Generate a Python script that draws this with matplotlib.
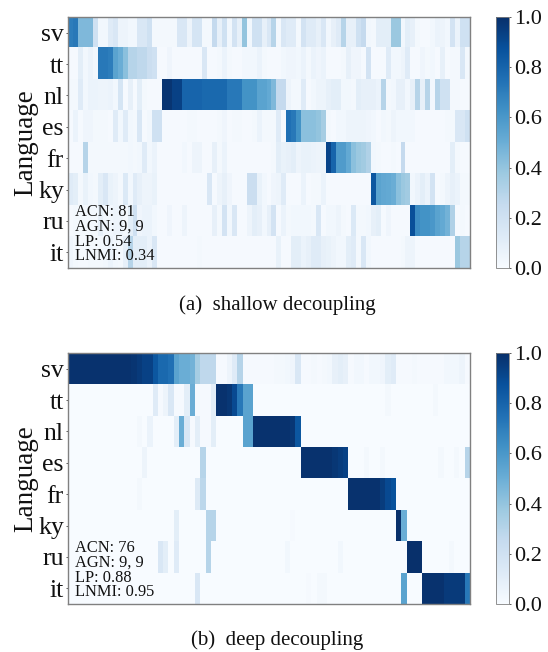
import numpy as np
import matplotlib
matplotlib.use("Agg")
import matplotlib.pyplot as plt

plt.rcParams['font.family'] = ['Liberation Serif', 'DejaVu Serif']

languages = ['sv', 'tt', 'nl', 'es', 'fr', 'ky', 'ru', 'it']
stats_a = ['ACN: 81', 'AGN: 9, 9', 'LP: 0.54', 'LNMI: 0.34']
stats_b = ['ACN: 76', 'AGN: 9, 9', 'LP: 0.88', 'LNMI: 0.95']
caption_a = '(a)  shallow decoupling'
caption_b = '(b)  deep decoupling'
cbar_ticks = [0.0, 0.2, 0.4, 0.6, 0.8, 1.0]

a_sv = [.7,.72,.45,.45,.45,.2,.03,.03,.12,.15,
        .05,.05,.03,.03,.15,.15,.2,.02,.02,.02,
        .02,.02,.15,.15,.05,.17,.17,.02,.02,.25,
        .08,.2,.03,.18,.08,.4,.03,.2,.2,.08,
        .15,.3,.02,.15,.12,.12,.02,.18,.12,.12,
        .08,.15,.03,.08,.12,.3,.08,.08,.2,.25,
        .03,.02,.1,.1,.1,.38,.38,.03,.1,.08,
        .02,.01,.01,.03,.06,.05,.03,.18,.06,.2,.2]
a_tt = [.01,.01,.1,.03,.06,.03,.72,.72,.7,.55,
        .5,.42,.3,.3,.27,.27,.22,.2,.01,.01,
        .04,.01,.01,.01,.01,.01,.01,.15,.01,.01,
        .02,.06,.02,.01,.01,.03,.03,.03,.06,.02,
        .01,.01,.01,.03,.04,.04,.03,.06,.02,.06,
        .04,.06,.01,.01,.01,.02,.08,.04,.04,.01,
        .18,.01,.01,.01,.12,.03,.03,.05,.12,.01,
        .01,.04,.02,.03,.01,.08,.01,.02,.02,.15,.02]
a_nl = [.02,.02,.12,.03,.06,.06,.05,.05,.06,.03,
        .17,.01,.08,.01,.1,.02,.01,.01,.01,.98,
        .98,.93,.93,.8,.8,.8,.8,.78,.78,.78,
        .78,.78,.72,.72,.72,.62,.62,.62,.55,.55,
        .52,.45,.25,.25,.05,.02,.02,.12,.01,.03,
        .05,.05,.08,.1,.1,.03,.03,.02,.1,.08,
        .08,.08,.06,.3,.02,.03,.08,.08,.03,.08,
        .3,.08,.3,.03,.3,.2,.2,.02,.02,.01,.01]
a_es = [.01,.06,.01,.04,.04,.02,.02,.02,.01,.12,
        .03,.12,.03,.02,.15,.01,.03,.2,.2,.01,
        .01,.01,.01,.01,.02,.02,.01,.01,.01,.01,
        .02,.04,.01,.02,.02,.01,.01,.02,.06,.02,
        .02,.02,.12,.01,.75,.72,.62,.42,.42,.42,
        .4,.35,.02,.01,.03,.03,.05,.05,.05,.05,
        .04,.03,.01,.03,.02,.05,.03,.03,.03,.03,
        .01,.01,.01,.01,.01,.01,.02,.02,.15,.15,.2]
a_fr = [.01,.01,.01,.3,.02,.02,.02,.02,.02,.02,
        .02,.02,.03,.02,.03,.12,.03,.06,.01,.01,
        .01,.01,.01,.03,.01,.05,.05,.01,.01,.08,
        .02,.06,.01,.01,.01,.01,.01,.01,.01,.01,
        .01,.02,.1,.07,.08,.1,.05,.07,.07,.06,
        .05,.05,.92,.8,.58,.58,.52,.42,.38,.36,
        .32,.03,.02,.01,.01,.02,.01,.25,.01,.01,
        .01,.01,.01,.01,.01,.01,.01,.1,.02,.01,.01]
a_ky = [.12,.1,.02,.07,.03,.02,.1,.15,.07,.05,
        .02,.14,.03,.12,.08,.05,.05,.07,.01,.01,
        .01,.01,.01,.01,.01,.01,.01,.01,.15,.01,
        .05,.08,.04,.01,.01,.01,.22,.22,.07,.03,
        .01,.04,.05,.12,.01,.01,.01,.06,.01,.02,
        .02,.06,.01,.01,.01,.01,.01,.01,.01,.01,
        .01,.85,.55,.53,.52,.5,.42,.38,.36,.03,
        .06,.1,.06,.18,.01,.02,.05,.08,.06,.02,.02]
a_ru = [.01,.02,.02,.02,.02,.02,.08,.03,.03,.05,
        .05,.02,.1,.2,.04,.06,.06,.03,.01,.01,
        .04,.01,.01,.05,.01,.01,.01,.01,.01,.08,
        .02,.18,.03,.15,.01,.01,.05,.1,.08,.03,
        .08,.18,.01,.06,.02,.03,.03,.03,.03,.02,
        .15,.01,.03,.03,.05,.02,.01,.14,.02,.02,
        .03,.08,.1,.01,.04,.01,.01,.01,.01,.88,
        .65,.62,.62,.6,.55,.52,.48,.32,.01,.02,.01]
a_it = [.04,.02,.01,.01,.02,.02,.02,.03,.06,.03,
        .02,.08,.3,.1,.1,.1,.06,.15,.01,.01,
        .01,.01,.01,.01,.01,.01,.02,.01,.01,.01,
        .01,.01,.01,.01,.01,.01,.01,.01,.01,.01,
        .01,.01,.07,.01,.01,.1,.1,.06,.08,.12,
        .12,.08,.07,.05,.03,.03,.1,.12,.02,.15,
        .03,.01,.01,.01,.01,.01,.01,.02,.05,.05,
        .01,.01,.01,.01,.01,.01,.01,.01,.38,.3,.3]

b_sv = [.99,.99,.99,.99,.99,.99,.99,.99,.99,.99,
        .99,.99,.98,.96,.93,.93,.85,.78,.78,.75,
        .55,.5,.5,.48,.35,.27,.27,.27,.01,.01,
        .05,.12,.3,.01,.01,.01,.01,.01,.01,.02,
        .02,.03,.04,.15,.01,.01,.02,.01,.02,.03,
        .08,.1,.08,.01,.03,.03,.01,.03,.03,.04,
        .1,.12,.01,.01,.01,.02,.01,.01,.01,.01,
        .01,.03,.03,.03,.05,.01]
b_tt = [0,0,0,0,0,0,0,0,0,0,
        0,0,0,0,0,0,.12,.01,.05,.15,
        .01,.01,.1,.5,.01,.01,.01,.1,.99,.99,
        .97,.9,.72,.55,.55,0,0,0,0,0,
        0,0,0,0,0,0,0,0,0,0,
        0,0,0,0,0,0,0,0,0,0,
        .02,0,0,0,0,0,0,0,0,.02,
        0,0,0,0,0,0]
b_nl = [0,0,0,0,0,0,0,0,0,0,
        0,0,0,.02,0,.06,0,0,0,0,
        .1,.5,.15,.01,.1,.01,.01,.1,0,0,
        0,0,0,.55,.55,.99,.99,.99,.99,.99,
        .99,.99,.97,.85,0,0,0,0,0,0,
        0,0,0,0,0,0,0,0,0,0,
        0,0,0,0,0,0,0,0,0,0,
        0,0,0,0,0,0]
b_es = [0,0,0,0,0,0,0,0,0,0,
        0,0,0,0,.05,0,0,0,0,0,
        0,0,0,0,0,.3,0,0,0,0,
        0,0,0,0,0,0,0,0,0,0,
        0,0,0,0,.99,.99,.99,.99,.99,.99,
        .97,.95,.93,0,0,0,.02,0,0,.02,
        0,0,0,0,0,0,0,0,0,0,
        .02,0,0,.02,0,.3]
b_fr = [0,0,0,0,0,0,0,0,0,0,
        0,0,0,.02,0,0,0,0,0,0,
        0,0,0,0,.13,.28,0,0,0,0,
        0,0,0,0,0,0,0,0,0,0,
        0,0,0,0,0,0,0,0,0,0,
        0,0,0,.99,.99,.99,.99,.99,.99,.95,
        .9,.87,0,0,0,0,0,0,0,0,
        0,0,0,0,0,0]
b_ky = [0,0,0,0,0,0,0,0,0,0,
        0,0,0,0,0,0,0,0,0,0,
        .1,0,0,0,0,0,.3,.3,0,0,
        0,0,0,0,0,0,0,0,0,0,
        0,0,.01,0,0,0,0,0,0,0,
        0,0,0,0,0,0,0,0,0,0,
        0,0,1.0,.5,0,0,0,0,0,0,
        0,0,0,0,0,0]
b_ru = [0,0,0,0,0,0,0,0,0,0,
        0,0,0,0,0,0,0,.15,.1,0,
        .12,0,0,0,0,0,.3,0,0,0,
        0,0,0,0,0,0,0,0,0,0,
        0,.03,0,0,0,0,0,0,0,0,
        0,.03,0,0,0,0,0,0,0,0,
        0,0,0,0,1.0,1.0,1.0,0,0,0,
        0,0,.02,0,0,0]
b_it = [0,0,0,0,0,0,0,0,0,0,
        0,0,0,0,0,0,0,0,0,0,
        0,0,0,0,.15,0,0,0,0,0,
        0,0,0,0,0,0,0,0,0,0,
        0,0,0,0,0,.01,0,.02,.02,0,
        0,0,0,0,0,0,0,0,0,0,
        0,0,0,.55,0,0,0,.99,.99,.99,
        .99,.96,.96,.96,.96,.72]

W, H = 548, 652
fig = plt.figure(figsize=(W/100, H/100), dpi=100)

def px_axes(x0, y0, x1, y1):
    return fig.add_axes([x0/W, 1-y1/H, (x1-x0)/W, (y1-y0)/H])

def panel(rows, stats, caption, top, bottom, cap_y):
    matrix = np.array(rows, dtype=float)
    ax = px_axes(68, top, 470, bottom)
    im = ax.imshow(matrix, cmap='Blues', vmin=0, vmax=1, aspect='auto',
                   interpolation='nearest')
    ax.set_xticks([])
    ax.set_yticks(range(len(languages)))
    ax.set_yticklabels(languages, fontsize=18.5, color='#111111')
    ax.tick_params(axis='y', length=1.5, width=0.6, pad=1.5, color='#444444')
    ax.set_ylabel('Language', fontsize=19.5, color='#111111')
    ax.yaxis.set_label_coords(-0.075, 0.5)
    for s in ax.spines.values():
        s.set_color('#808080')
        s.set_linewidth(1.0)
    for txt, py in zip(stats, [-56.5, -41.5, -26.5, -11.5]):
        ax.annotate(txt, xy=(75/W, 1-(bottom+py)/H), xycoords='figure fraction',
                    fontsize=11.8, color='#111111', va='center', ha='left')
    cax = px_axes(496, top, 509, bottom)
    cb = fig.colorbar(im, cax=cax)
    cb.set_ticks(cbar_ticks)
    cb.set_ticklabels([f'{t:.1f}' for t in cbar_ticks])
    cb.ax.tick_params(labelsize=16, length=1.5, width=0.6, pad=2, color='#444444',
                      labelcolor='#111111')
    cb.outline.set_edgecolor('#808080')
    cb.outline.set_linewidth(0.6)
    fig.text(277/W, 1-cap_y/H, caption, fontsize=15, ha='center', va='center',
             color='#111111')

panel([a_sv, a_tt, a_nl, a_es, a_fr, a_ky, a_ru, a_it], stats_a, caption_a, 17, 268, 305)
panel([b_sv, b_tt, b_nl, b_es, b_fr, b_ky, b_ru, b_it], stats_b, caption_b, 353, 604, 640)

fig.savefig('out.png', dpi=100)
